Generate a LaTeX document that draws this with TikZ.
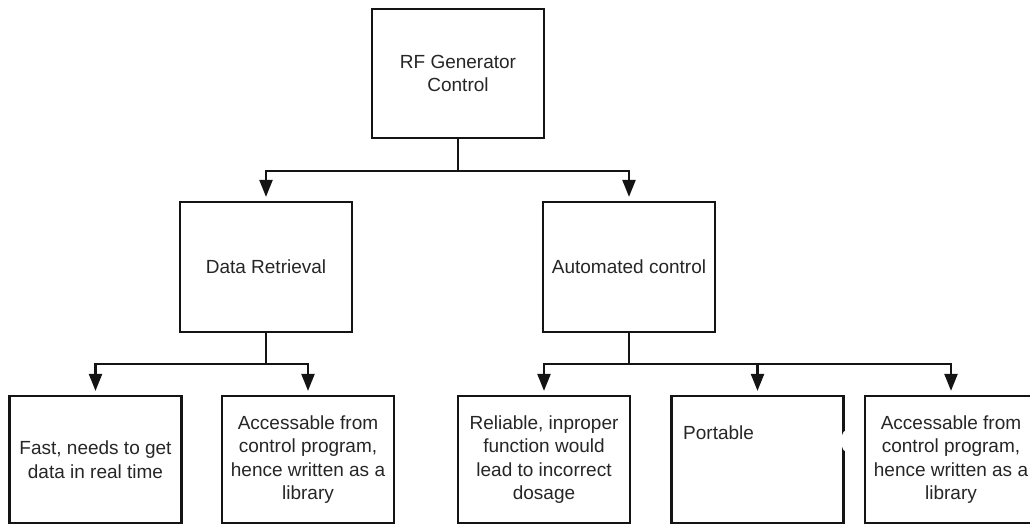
\documentclass[tikz,border=0pt]{standalone}
\usepackage{fontspec}
\setmainfont{Liberation Sans}
\usetikzlibrary{arrows.meta}
\definecolor{linecol}{HTML}{141414}
\definecolor{txtcol}{HTML}{262626}
\tikzset{
  box/.style={draw=linecol, line width=2.2pt, fill=white, minimum width=172pt,
    inner sep=0pt, align=center, text=txtcol,
    font=\fontsize{19}{23.5}\selectfont},
  upper/.style={box, minimum height=129pt},
  lower/.style={box, minimum height=127pt},
  link/.style={draw=linecol, line width=2.2pt},
  arr/.style={link, -{Triangle[width=13pt,length=17pt]}, shorten >=4pt},
}
\begin{document}
\begin{tikzpicture}[x=1pt, y=-1pt]
\useasboundingbox (0,0) rectangle (1030,525);

% root
\node[upper] (root) at (458,73.5) {RF Generator\\Control};

% second level
\node[upper, minimum height=130pt] (data) at (266,267) {Data Retrieval};
\node[upper, minimum height=130pt] (auto) at (629,267) {Automated control};

% leaves
\node[lower] (fast)  at (95.5,459.5) {Fast, needs to get\\data in real time};
\node[lower] (acc1)  at (308,459.5) {Accessable from\\control program,\\hence written as a\\library};
\node[lower] (rel)   at (544,459.5) {Reliable, inproper\\function would\\lead to incorrect\\dosage};
\node[lower] (port)  at (757.5,459.5) {};
\node[anchor=west, text=txtcol, inner sep=0pt, font=\fontsize{19}{23.5}\selectfont]
  (portlbl) at (683,433) {Portable};
\fill[white] (845,441) ellipse [x radius=3.5pt, y radius=10pt];
\node[lower] (acc2)  at (951,459.5) {Accessable from\\control program,\\hence written as a\\library};

% connectors
\draw[arr] (root.south) -- ++(0,32) -| (data.north);
\draw[arr] (root.south) -- ++(0,32) -| (auto.north);

\draw[arr] (data.south) -- ++(0,31) -| (fast.north);
\draw[arr] (data.south) -- ++(0,31) -| (acc1.north);

\draw[arr] (auto.south) -- ++(0,31) -| (rel.north);
\draw[arr] (auto.south) -- ++(0,31) -| (port.north);
\draw[arr] (auto.south) -- ++(0,31) -| (acc2.north);
\end{tikzpicture}
\end{document}
